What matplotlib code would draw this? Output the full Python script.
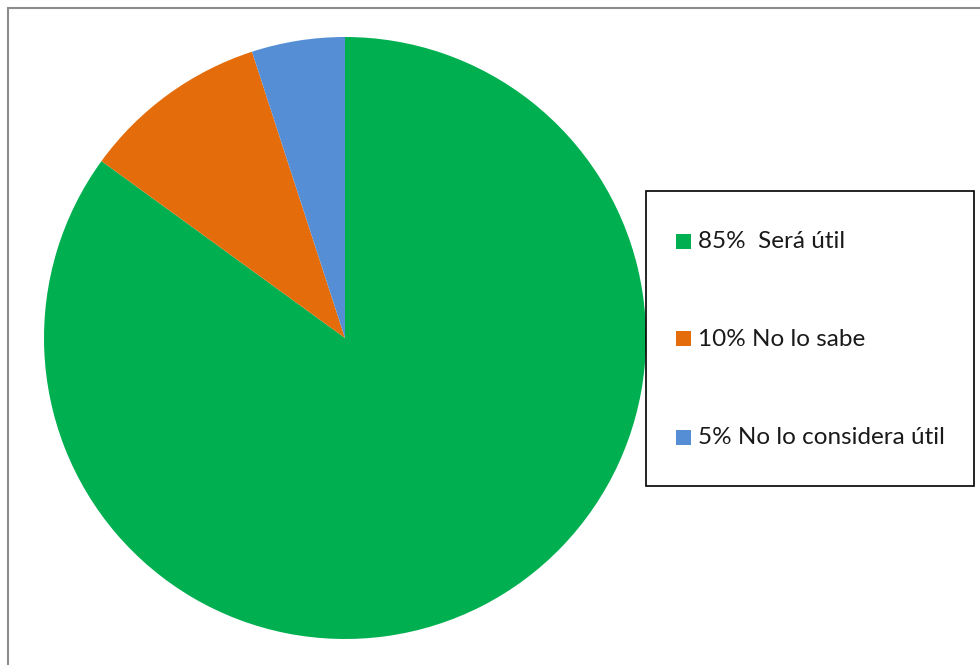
import matplotlib.pyplot as plt
from matplotlib.patches import Rectangle

# datos
etiquetas = ['85%  Será útil', '10% No lo sabe', '5% No lo considera útil']
valores = [85, 10, 5]
colores = ['#00B050', '#E46C0A', '#558ED5']

plt.rcParams['font.family'] = ['Lato', 'DejaVu Sans']

W, H = 980, 665
fig = plt.figure(figsize=[W / 100, H / 100], dpi=100)

def px(x, y):
    # pixeles (desde arriba a la izquierda) -> fraccion de figura
    return x / W, 1 - y / H

# marco gris exterior (solo se ve arriba y a la izquierda)
fig.patches.append(Rectangle(px(8, 700), (W + 20) / W, (700 - 8) / H, transform=fig.transFigure,
                             fill=False, edgecolor='#8c8c8c', linewidth=1.5))

# pastel
cx, cy, r = 345, 338, 301
ax = fig.add_axes([(cx - r) / W, (H - cy - r) / H, 2 * r / W, 2 * r / H])
ax.pie(valores, colors=colores, startangle=90, counterclock=False, radius=1,
       wedgeprops={'linewidth': 0})
ax.set_xlim(-1, 1)
ax.set_ylim(-1, 1)
ax.set_aspect('equal')
ax.axis('off')

# leyenda dibujada a mano
x0, y0, x1, y1 = 646, 191, 974, 486
fig.patches.append(Rectangle(px(x0, y1), (x1 - x0) / W, (y1 - y0) / H, transform=fig.transFigure,
                             fill=True, facecolor='white', edgecolor='black', linewidth=1.2, zorder=5))
filas = [241, 339, 437]
for lab, col, yy in zip(etiquetas, colores, filas):
    fig.patches.append(Rectangle(px(676, yy + 7.5), 15 / W, 15 / H, transform=fig.transFigure,
                                 facecolor=col, edgecolor='none', zorder=6))
    fx, fy = px(698, yy)
    fig.text(fx, fy, lab, fontsize=17.5, color='#1a1a1a', va='center', ha='left', zorder=7)

plt.savefig('out.png', dpi=100)
